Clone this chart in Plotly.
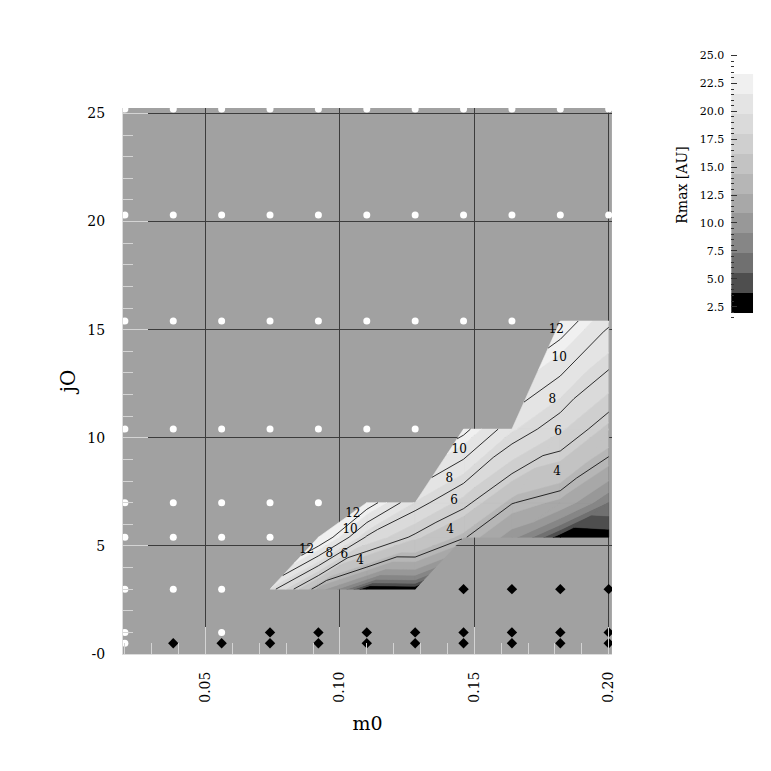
import numpy as np
import plotly.graph_objects as go

# ---------------- data ----------------
m0 = [0.020, 0.038, 0.056, 0.074, 0.092, 0.110, 0.128, 0.146, 0.164, 0.182, 0.200]
j0 = [0.5, 1.0, 3.0, 5.4, 7.0, 10.4, 15.4, 20.3, 25.2]

N = None
rmax_j0_0_5 = [N, N, N, N, N, N, N, N, N, N, N]
rmax_j0_1_0 = [N, N, N, N, N, N, N, N, N, N, N]
rmax_j0_3_0 = [N, N, N, 7.65, 2.24, 0.20, 0.25, N, N, N, N]
rmax_j0_5_4 = [N, N, N, N, 12.8, 6.8, 4.7, 3.1, 1.6, 0.30, 0.35]
rmax_j0_7_0 = [N, N, N, N, N, 12.0, 7.7, 5.4, 3.05, 2.4, 1.0]
rmax_j0_10_4 = [N, N, N, N, N, N, N, 11.5, 8.0, 6.1, 4.2]
rmax_j0_15_4 = [N, N, N, N, N, N, N, N, N, 12.0, 9.3]
rmax_j0_20_3 = [N, N, N, N, N, N, N, N, N, N, N]
rmax_j0_25_2 = [N, N, N, N, N, N, N, N, N, N, N]

# outcome per grid point: 'o' open dot, 'd' diamond, '-' Rmax available, '.' nothing
flag_j0_0_5 = "odddddddddd"
flag_j0_1_0 = "o.odddddddd"
flag_j0_3_0 = "ooo----dddd"
flag_j0_5_4 = "oooo-------"
flag_j0_7_0 = "ooooo------"
flag_j0_10_4 = "ooooooo----"
flag_j0_15_4 = "ooooooooo--"
flag_j0_20_3 = "ooooooooooo"
flag_j0_25_2 = "ooooooooooo"

fill_levels = [0.5, 0.75, 1.05, 1.45, 1.95, 2.6, 3.4, 4.5, 5.9, 7.8, 10.2]
line_levels = [3, 5, 7, 9, 11, 13]
label_values = [12, 12, 10, 8, 6, 4, 10, 8, 6, 4, 12, 10, 8, 6, 4]
label_m0 = [0.0876, 0.1048, 0.1038, 0.0961, 0.1016, 0.1075,
            0.1444, 0.1407, 0.1425, 0.1410,
            0.1805, 0.1816, 0.1790, 0.1812, 0.1808]

cbar_ticks = [2.5, 5.0, 7.5, 10.0, 12.5, 15.0, 17.5, 20.0, 22.5, 25.0]
cbar_band_lo, cbar_band_hi = 1.94, 23.35
grays = ['#000000', '#4e4e4e', '#707070', '#868686', '#989898', '#a8a8a8',
         '#b6b6b6', '#c3c3c3', '#cfcfcf', '#dadada', '#e4e4e4', '#f0f0f0']

# ---------------- triangulated contouring ----------------
rows = [rmax_j0_0_5, rmax_j0_1_0, rmax_j0_3_0, rmax_j0_5_4, rmax_j0_7_0,
        rmax_j0_10_4, rmax_j0_15_4, rmax_j0_20_3, rmax_j0_25_2]
flags = [flag_j0_0_5, flag_j0_1_0, flag_j0_3_0, flag_j0_5_4, flag_j0_7_0,
         flag_j0_10_4, flag_j0_15_4, flag_j0_20_3, flag_j0_25_2]
Z = np.array([[np.nan if v is None else v for v in r] for r in rows], float)
X = np.array(m0)
Y = np.array(j0)
ny, nx = Z.shape

tris = []
for j in range(ny - 1):
    for i in range(nx - 1):
        c00 = (X[i], Y[j], Z[j, i])
        c10 = (X[i + 1], Y[j], Z[j, i + 1])
        c11 = (X[i + 1], Y[j + 1], Z[j + 1, i + 1])
        c01 = (X[i], Y[j + 1], Z[j + 1, i])
        corners = [c00, c10, c11, c01]
        ok = [not np.isnan(c[2]) for c in corners]
        if sum(ok) == 4:
            tris.append((c00, c10, c11))
            tris.append((c00, c11, c01))
        elif sum(ok) == 3:
            tris.append(tuple(c for c, v in zip(corners, ok) if v))


def clip(poly, level, above):
    out = []
    n = len(poly)
    for k in range(n):
        p, q = poly[k], poly[(k + 1) % n]
        fp = (p[2] - level) if above else (level - p[2])
        fq = (q[2] - level) if above else (level - q[2])
        if fp >= 0:
            out.append(p)
        if (fp >= 0) != (fq >= 0):
            t = fp / (fp - fq)
            out.append((p[0] + t * (q[0] - p[0]), p[1] + t * (q[1] - p[1]),
                        p[2] + t * (q[2] - p[2])))
    return out


edges = [-np.inf] + fill_levels + [np.inf]
fig = go.Figure()

for k in range(len(edges) - 1):
    lo, hi = edges[k], edges[k + 1]
    xs, ys = [], []
    for tri in tris:
        poly = list(tri)
        if np.isfinite(lo):
            poly = clip(poly, lo, True)
        if len(poly) >= 3 and np.isfinite(hi):
            poly = clip(poly, hi, False)
        if len(poly) >= 3:
            xs += [p[0] for p in poly] + [poly[0][0], None]
            ys += [p[1] for p in poly] + [poly[0][1], None]
    if xs:
        fig.add_trace(go.Scatter(x=xs, y=ys, mode='lines', fill='toself',
                                 fillcolor=grays[k],
                                 line=dict(color=grays[k], width=0.6),
                                 hoverinfo='skip', showlegend=False))

# contour lines
lx, ly = [], []
for L in line_levels:
    for tri in tris:
        pts = []
        for a, b in ((0, 1), (1, 2), (2, 0)):
            p, q = tri[a], tri[b]
            if (p[2] >= L) != (q[2] >= L):
                t = (L - p[2]) / (q[2] - p[2])
                pts.append((p[0] + t * (q[0] - p[0]), p[1] + t * (q[1] - p[1])))
        if len(pts) == 2:
            lx += [pts[0][0], pts[1][0], None]
            ly += [pts[0][1], pts[1][1], None]
fig.add_trace(go.Scatter(x=lx, y=ly, mode='lines',
                         line=dict(color='black', width=0.8),
                         hoverinfo='skip', showlegend=False))


def field_along(x0, ys):
    vals = np.full(ys.shape, np.nan)
    for (a, b, c) in tris:
        det = (b[1] - c[1]) * (a[0] - c[0]) + (c[0] - b[0]) * (a[1] - c[1])
        l0 = ((b[1] - c[1]) * (x0 - c[0]) + (c[0] - b[0]) * (ys - c[1])) / det
        l1 = ((c[1] - a[1]) * (x0 - c[0]) + (a[0] - c[0]) * (ys - c[1])) / det
        l2 = 1 - l0 - l1
        ins = (l0 >= -1e-9) & (l1 >= -1e-9) & (l2 >= -1e-9)
        vals[ins] = (l0 * a[2] + l1 * b[2] + l2 * c[2])[ins]
    return vals


ysamp = np.linspace(0, 25.25, 5000)
tx, ty, tt = [], [], []
for v, x0 in zip(label_values, label_m0):
    f = field_along(x0, ysamp)
    d = np.where(np.isnan(f), np.inf, np.abs(f - v))
    tx.append(x0)
    ty.append(ysamp[int(np.argmin(d))])
    tt.append(str(v))
fig.add_trace(go.Scatter(x=tx, y=ty, mode='text', text=tt,
                         textfont=dict(family='DejaVu Serif', size=12, color='black'),
                         hoverinfo='skip', showlegend=False))

# grid point markers
ox, oy, dx, dy = [], [], [], []
for j, fl in enumerate(flags):
    for i, ch in enumerate(fl):
        if ch == 'o':
            ox.append(X[i]); oy.append(Y[j])
        elif ch == 'd':
            dx.append(X[i]); dy.append(Y[j])
fig.add_trace(go.Scatter(x=ox, y=oy, mode='markers',
                         marker=dict(symbol='circle', size=7, color='white',
                                     line=dict(width=0)),
                         hoverinfo='skip', showlegend=False))
fig.add_trace(go.Scatter(x=dx, y=dy, mode='markers',
                         marker=dict(symbol='diamond', size=8, color='black',
                                     line=dict(width=0)),
                         hoverinfo='skip', showlegend=False))

# colour bar (separate axes)
cb_edges = np.linspace(cbar_band_lo, cbar_band_hi, len(grays) + 1)
fig.add_trace(go.Heatmap(x=[0, 1], y=cb_edges, z=[[k] for k in range(len(grays))],
                         colorscale=[[k / (len(grays) - 1), c] for k, c in enumerate(grays)],
                         zmin=0, zmax=len(grays) - 1, showscale=False,
                         hoverinfo='skip', xaxis='x2', yaxis='y2'))

serif = 'DejaVu Serif'
fig.update_layout(
    width=771, height=771,
    margin=dict(l=123, r=10, t=40, b=117),
    paper_bgcolor='white', plot_bgcolor='white',
    showlegend=False,
    shapes=[dict(type='rect', xref='x domain', yref='y domain',
                 x0=0, x1=1, y0=0, y1=1, fillcolor='#a1a1a1',
                 line=dict(width=0), layer='below')],
    xaxis=dict(domain=[0, 0.77116], range=[0.0193, 0.2012],
               tickmode='linear', tick0=0, dtick=0.05, tickformat='.2f',
               tickangle=-90, ticks='inside', ticklen=27, tickwidth=1,
               tickcolor='#d4d4d4', ticklabelstandoff=11,
               minor=dict(ticks='inside', ticklen=11, dtick=0.01, tick0=0,
                          tickcolor='#d4d4d4', showgrid=False),
               showgrid=True, gridcolor='#3c3c3c', gridwidth=1,
               zeroline=False, showline=True, linecolor='#dcdcdc', linewidth=1,
               tickfont=dict(family=serif, size=14, color='black'),
               title=dict(text='m0', standoff=14,
                          font=dict(family=serif, size=19, color='black'))),
    yaxis=dict(domain=[0, 0.88925], range=[0, 25.25],
               tickmode='array', tickvals=[0, 5, 10, 15, 20, 25],
               ticktext=['-0', '5', '10', '15', '20', '25'],
               ticks='inside', ticklen=25, tickwidth=1, tickcolor='#d4d4d4',
               ticklabelstandoff=14,
               minor=dict(ticks='inside', ticklen=10, dtick=1, tick0=0,
                          tickcolor='#d4d4d4', showgrid=False),
               showgrid=True, gridcolor='#3c3c3c', gridwidth=1,
               zeroline=False, showline=True, linecolor='#dcdcdc', linewidth=1,
               tickfont=dict(family=serif, size=14, color='black'),
               title=dict(text='jO', standoff=6,
                          font=dict(family=serif, size=20, color='black'))),
    xaxis2=dict(domain=[0.95925, 0.99373], range=[0, 1], visible=False,
                anchor='y2', fixedrange=True),
    yaxis2=dict(domain=[0.54397, 0.98371], range=[1.308, 25.5], anchor='x2',
                side='left', tickmode='array', tickvals=cbar_ticks,
                ticktext=['%.1f' % t for t in cbar_ticks],
                ticks='inside', ticklen=6, tickwidth=1, tickcolor='#333333',
                minor=dict(ticks='inside', ticklen=3, dtick=0.5, tick0=0,
                           tickcolor='#333333', showgrid=False),
                showgrid=False, zeroline=False, showline=False,
                ticklabelstandoff=6,
                tickfont=dict(family=serif, size=11, color='black'),
                title=dict(text='Rmax [AU]', standoff=8,
                           font=dict(family=serif, size=14, color='black'))),
)

fig.write_html("out.html", config={'displayModeBar': False},
               post_script="document.body.style.margin='0px';")
